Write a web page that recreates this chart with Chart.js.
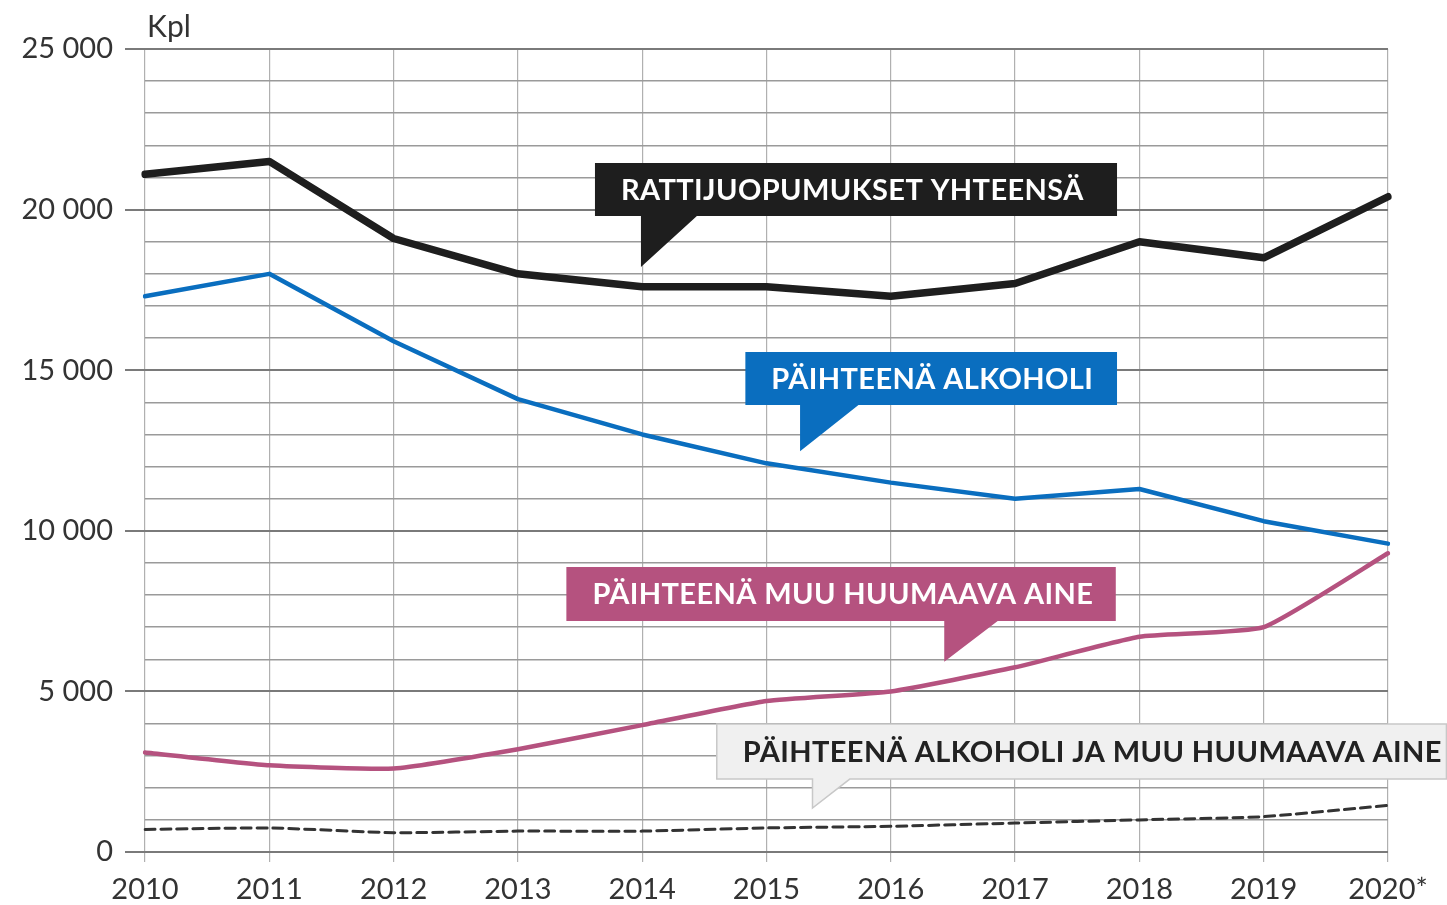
<!DOCTYPE html>
<html>
<head>
<meta charset="utf-8">
<script src="https://cdn.jsdelivr.net/npm/chart.js@4"></script>
<style>
  html, body { margin: 0; padding: 0; background: #fff; }
  #wrap { width: 1447px; height: 905px; position: relative; }
</style>
</head>
<body>
<div id="wrap"><canvas id="myChart"></canvas></div>
<script>
// Data
var years = ["2010", "2011", "2012", "2013", "2014", "2015", "2016", "2017", "2018", "2019", "2020*"];
var yhteensa = [21100, 21500, 19100, 18000, 17600, 17600, 17300, 17700, 19000, 18500, 20400];
var alkoholi = [17300, 18000, 15900, 14100, 13000, 12100, 11500, 11000, 11300, 10300, 9600];
var muuAine = [3100, 2700, 2600, 3200, 3950, 4700, 5000, 5750, 6700, 7000, 9300];
var molemmat = [700, 750, 600, 650, 650, 750, 800, 900, 1000, 1100, 1450];

// Selitelaatikot (x = vuosi-indeksi, y = arvo)
var callouts = [
  { text: "RATTIJUOPUMUKSET YHTEENSÄ", bg: "#1e1e1e", fg: "#fff", left: 3.62, right: 7.82, top: 21450, bottom: 19800, tx1: 3.99, tx2: 4.44, tip: 18210 },
  { text: "PÄIHTEENÄ ALKOHOLI", bg: "#0a6ebf", fg: "#fff", left: 4.83, right: 7.82, top: 15570, bottom: 13920, tx1: 5.27, tx2: 5.74, tip: 12480 },
  { text: "PÄIHTEENÄ MUU HUUMAAVA AINE", bg: "#b5527f", fg: "#fff", left: 3.39, right: 7.81, top: 8870, bottom: 7190, tx1: 6.43, tx2: 6.86, tip: 5920 },
  { text: "PÄIHTEENÄ ALKOHOLI JA MUU HUUMAAVA AINE", bg: "#f0f0f0", fg: "#222", border: "#c8c8c8", left: 4.60, right: 10.47, top: 3985, bottom: 2270, tx1: 5.37, tx2: 5.67, tip: 1370 }
];

var calloutPlugin = {
  id: 'callouts',
  afterDatasetsDraw: function (chart) {
    var ctx = chart.ctx;
    var xs = chart.scales.x, ys = chart.scales.y;
    callouts.forEach(function (c) {
      var l = xs.getPixelForValue(c.left), r = xs.getPixelForValue(c.right);
      var t = ys.getPixelForValue(c.top), b = ys.getPixelForValue(c.bottom);
      var x1 = xs.getPixelForValue(c.tx1), x2 = xs.getPixelForValue(c.tx2);
      var tp = ys.getPixelForValue(c.tip);
      ctx.save();
      ctx.beginPath();
      ctx.moveTo(l, t);
      ctx.lineTo(r, t);
      ctx.lineTo(r, b);
      ctx.lineTo(x2, b);
      ctx.lineTo(x1, tp);
      ctx.lineTo(x1, b);
      ctx.lineTo(l, b);
      ctx.closePath();
      ctx.fillStyle = c.bg;
      ctx.fill();
      if (c.border) {
        ctx.strokeStyle = c.border;
        ctx.lineWidth = 1.5;
        ctx.stroke();
      }
      ctx.fillStyle = c.fg;
      ctx.font = "bold 29px Lato, 'Open Sans', sans-serif";
      ctx.letterSpacing = '0.4px';
      ctx.textAlign = 'left';
      ctx.textBaseline = 'middle';
      ctx.fillText(c.text, l + 26, (t + b) / 2 + 1);
      ctx.restore();
    });
    // yksikkö
    ctx.save();
    ctx.fillStyle = '#333';
    ctx.font = "30px Lato, sans-serif";
    ctx.textAlign = 'left';
    ctx.textBaseline = 'middle';
    ctx.fillText('Kpl', chart.chartArea.left + 2, 27);
    ctx.restore();
  }
};

function fmt(v) {
  if (v === 0) return '0';
  var s = String(v);
  return s.slice(0, s.length - 3) + ' ' + s.slice(-3);
}

var ctx = document.getElementById('myChart').getContext('2d');
var myChart = new Chart(ctx, {
  type: 'line',
  data: {
    labels: years,
    datasets: [
      { label: 'Yhteensä', data: yhteensa, borderColor: '#1e1e1e', borderWidth: 7.5, tension: 0 },
      { label: 'Alkoholi', data: alkoholi, borderColor: '#0a6ebf', borderWidth: 4.5, tension: 0 },
      { label: 'Muu huumaava aine', data: muuAine, borderColor: '#b5527f', borderWidth: 4.5, tension: 0.15 },
      { label: 'Alkoholi ja muu', data: molemmat, borderColor: '#333', borderWidth: 3, borderDash: [10, 6], tension: 0.15 }
    ]
  },
  options: {
    responsive: true,
    maintainAspectRatio: false,
    animation: false,
    layout: { padding: { top: 49, right: 59, left: 0, bottom: 0 } },
    elements: { point: { radius: 0 }, line: { borderCapStyle: 'round', borderJoinStyle: 'round' } },
    plugins: { legend: { display: false }, tooltip: { enabled: false } },
    scales: {
      x: {
        offset: false,
        afterFit: function (s) { s.height = 53; },
        border: { display: false },
        grid: { color: '#b0b0b0', lineWidth: 1.2, tickLength: 10, tickColor: '#b0b0b0' },
        ticks: { color: '#333', font: { family: 'Lato', size: 29 }, padding: 10, maxRotation: 0 }
      },
      y: {
        min: 0,
        max: 25000,
        afterFit: function (s) { s.width = 145; },
        border: { display: false },
        grid: {
          color: function (c) { return c.tick && c.tick.value % 5000 === 0 ? '#7a7a7a' : '#9a9a9a'; },
          lineWidth: function (c) { return c.tick && c.tick.value % 5000 === 0 ? 2 : 1.5; },
          tickLength: 20,
          tickColor: function (c) { return c.tick && c.tick.value % 5000 === 0 ? '#7a7a7a' : 'rgba(0,0,0,0)'; }
        },
        ticks: {
          stepSize: 1000,
          autoSkip: false,
          color: '#333',
          padding: 12,
          font: { family: 'Lato', size: 29 },
          callback: function (v) { return v % 5000 === 0 ? fmt(v) : ''; }
        }
      }
    }
  },
  plugins: [calloutPlugin]
});
</script>
</body>
</html>
